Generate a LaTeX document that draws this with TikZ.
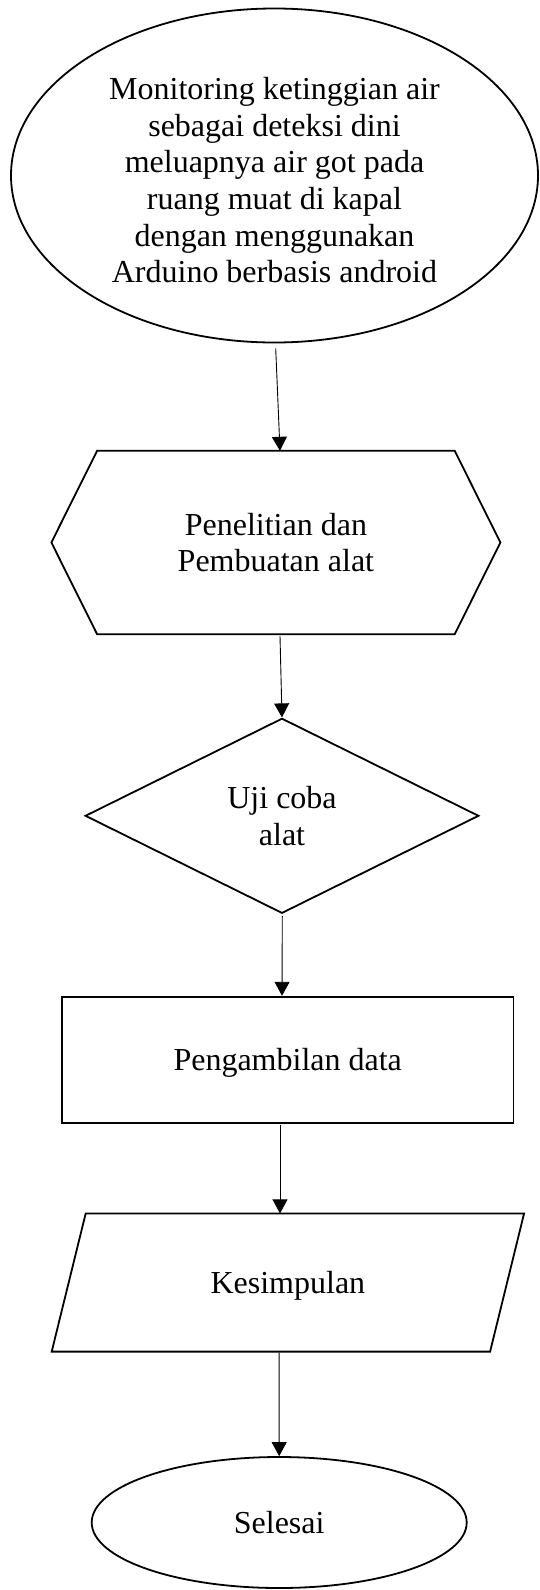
\documentclass[tikz,border=0pt]{standalone}
\usepackage{fontspec}
\setmainfont{Liberation Serif}
\usepackage{tikz}
\usetikzlibrary{shapes.geometric,arrows.meta}

\tikzset{
	teks/.style={font=\fontsize{32}{36.7}\selectfont, align=center, inner sep=0pt, text depth=0pt},
	bentuk/.style={teks, line width=1.8pt},
	terminal/.style={bentuk, ellipse, draw},
	keputusan/.style={bentuk, diamond, draw, aspect=2},
	proses/.style={bentuk, rectangle, draw},
	kosong/.style={bentuk, rectangle},
	garis/.style={line width=1.8pt},
	panah/.style={line width=0.9pt, -{Triangle[length=14pt,width=15pt]}}
}

\begin{document}
\begin{tikzpicture}[x=1pt,y=-1pt]
	\useasboundingbox (0,0) rectangle (539,1590);
	
	% Judul
	\node[terminal, minimum width=527pt, minimum height=334pt,
		label={[teks, yshift=-4.6pt]center:Monitoring ketinggian air\\sebagai deteksi dini\\meluapnya air got pada\\ruang muat di kapal\\dengan menggunakan\\Arduino berbasis android}] (judul) at (274.5,175.5) {};
	
	% Penelitian (hexagon)
	\node[kosong, minimum width=447.2pt, minimum height=181.6pt] (penelitian) at (275.9,542.5)
	{Penelitian dan\\Pembuatan alat};
	\draw[garis] (penelitian.west) -- ([xshift=45.7pt]penelitian.north west)
		-- ([xshift=-45.7pt]penelitian.north east) -- (penelitian.east)
		-- ([xshift=-45.7pt]penelitian.south east) -- ([xshift=45.7pt]penelitian.south west) -- cycle;
	
	% Uji coba
	\node[keputusan, minimum width=393.6pt, minimum height=195pt] (ujicoba) at (282,815.8)
	{Uji coba\\alat};
	
	% Pengambilan data
	\node[proses, minimum width=451.7pt, minimum height=126pt] (data) at (287.7,1059.7)
	{Pengambilan data};
	
	% Kesimpulan (jajar genjang)
	\node[kosong, minimum width=470.6pt, minimum height=136.4pt] (kesimpulan) at (287.9,1282.5)
	{Kesimpulan};
	\draw[garis] ([xshift=34pt]kesimpulan.north west) -- (kesimpulan.north east)
		-- ([xshift=-34pt]kesimpulan.south east) -- (kesimpulan.south west) -- cycle;
	
	% Selesai
	\node[terminal, minimum width=375pt, minimum height=131pt] (selesai) at (279.2,1522.5)
	{Selesai};
	
	% Panah
	\draw[panah] ([xshift=1.2pt,yshift=-5pt]judul.south) -- ([xshift=4.1pt]penelitian.north);
	\draw[panah] ([xshift=4.1pt,yshift=-2pt]penelitian.south) -- (ujicoba.north);
	\draw[panah] ([xshift=0.3pt,yshift=-2pt]ujicoba.south) -- ([xshift=-5.7pt]data.north);
	\draw[panah] ([xshift=-7.7pt,yshift=-1pt]data.south) -- ([xshift=-7.9pt]kesimpulan.north);
	\draw[panah] ([xshift=-8.8pt,yshift=-1pt]kesimpulan.south) -- (selesai.north);
\end{tikzpicture}
\end{document}
